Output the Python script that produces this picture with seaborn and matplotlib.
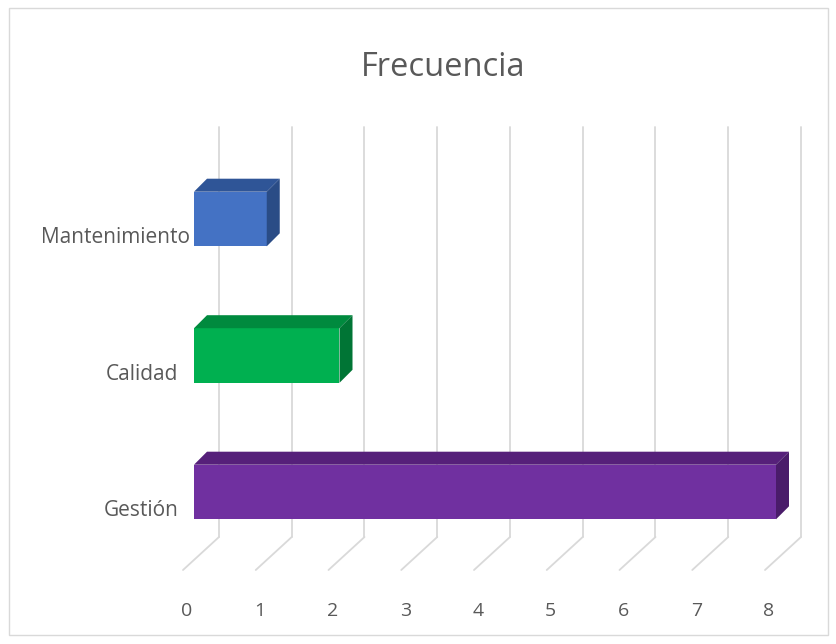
import matplotlib
matplotlib.use("Agg")
import matplotlib.pyplot as plt
import matplotlib.transforms as mtransforms
from matplotlib.patches import Polygon, Rectangle
import seaborn as sns
import pandas as pd
import numpy as np

categories = ["Mantenimiento", "Calidad", "Gestión"]
values = [1, 2, 8]
front_colors = ["#4472C4", "#00B050", "#7030A0"]
top_colors = ["#2F5597", "#008A3E", "#56207A"]
side_colors = ["#2A4C86", "#007535", "#4A1C6A"]
xticks = [0, 1, 2, 3, 4, 5, 6, 7, 8]
title = "Frecuencia"

sns.set_theme(style="white")
plt.rcParams["font.family"] = ["Open Sans", "DejaVu Sans"]

W, H = 837, 644
fig = plt.figure(figsize=(W / 100, H / 100), dpi=100)
fig.patch.set_facecolor("white")

# axes: front face of bars plane
L, R, T, B = 194, 776, 127, 570
ax = fig.add_axes([L / W, 1 - B / H, (R - L) / W, (B - T) / H])
df = pd.DataFrame({"cat": categories, "val": values})
sns.barplot(data=df, y="cat", x="val", hue="cat", palette=front_colors,
            orient="h", width=0.4, legend=False, ax=ax, saturation=1,
            linewidth=0, zorder=5)
ax.set_xlim(0, 8)
ax.set_ylim((B - 219) / 136.5, (T - 219) / 136.5)
for s in ax.spines.values():
    s.set_visible(False)
ax.set_xticks([])
ax.set_yticks([])
ax.set_xlabel("")
ax.set_ylabel("")
ax.patch.set_alpha(0)

def px(dx, dy):
    return mtransforms.ScaledTranslation(dx / 100, dy / 100, fig.dpi_scale_trans)

grid_c = "#D9D9D9"
blend = mtransforms.blended_transform_factory(ax.transData, ax.transAxes)
floor_y = (B - 537) / (B - T)
for v in xticks:
    ax.plot([v, v], [floor_y, 1.0], transform=blend + px(25, 0), color=grid_c,
            lw=1.3, clip_on=False, zorder=1)
    # floor diagonal
    p0 = (blend + px(25, 0)).transform((v, floor_y))
    p1 = (blend + px(-11, 0)).transform((v, 0))
    ln = plt.Line2D([p0[0], p1[0]], [p0[1], p1[1]], transform=None, color=grid_c,
                    lw=1.3, zorder=1)
    fig.add_artist(ln)
    ax.text(v, -0.0925, str(v), transform=blend + px(-7, 0), ha="center",
            va="center", fontsize=14, color="#595959")

# 3D faces for bars
d = 13
label_dx = [-4, -16, -15]
for i, patch in enumerate(ax.patches[:len(values)]):
    bb = patch.get_window_extent(renderer=fig.canvas.get_renderer())
    x0, x1, y0, y1 = bb.x0, bb.x1, bb.y0, bb.y1
    top = Polygon([(x0, y1), (x1, y1), (x1 + d, y1 + d), (x0 + d, y1 + d)],
                  closed=True, transform=None, facecolor=top_colors[i],
                  edgecolor="none", zorder=6)
    side = Polygon([(x1, y0), (x1, y1), (x1 + d, y1 + d), (x1 + d, y0 + d)],
                   closed=True, transform=None, facecolor=side_colors[i],
                   edgecolor="none", zorder=6)
    fig.add_artist(top)
    fig.add_artist(side)
    cy = (y0 + y1) / 2 - 19
    fig.text((x0 + label_dx[i]) / W, cy / H, categories[i], ha="right", va="center",
             fontsize=15, color="#595959")

fig.text(443 / W, 1 - 67 / H, title, ha="center", va="center", fontsize=23.5,
         color="#595959")

fig.add_artist(Rectangle((9 / W, 1 - 635 / H), 819 / W, 627 / H, transform=fig.transFigure,
                         fill=False, edgecolor="#D9D9D9", lw=1))

fig.savefig("out.png", dpi=100)
